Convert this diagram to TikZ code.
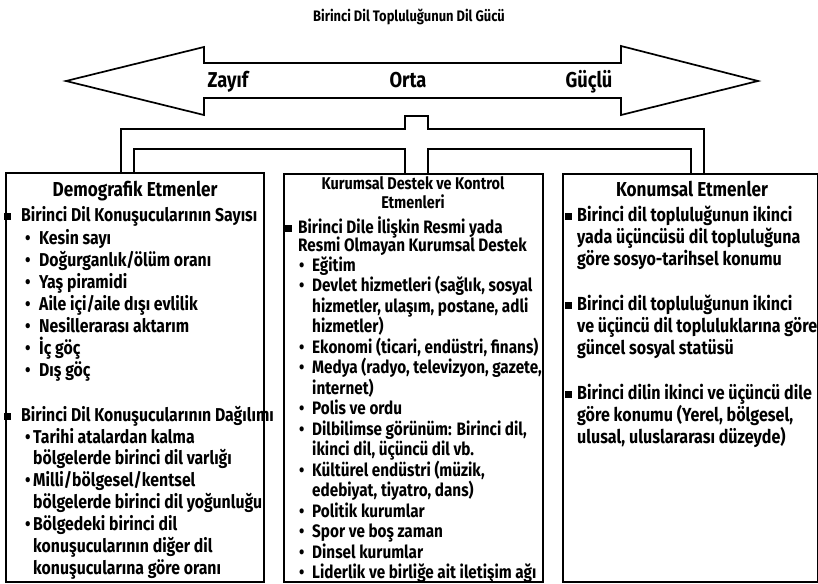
\documentclass[tikz,border=0pt]{standalone}
\usepackage{fontspec}
\setmainfont{Fira Sans}[FakeStretch=0.85]
\newcommand\sqbul[1]{\makebox[#1][l]{\rule[1.5pt]{7pt}{7pt}}}
\newcommand\dotbul[1]{\makebox[#1][l]{•}}
\tikzset{
  box/.style={draw, line width=1.7pt, anchor=north west, inner sep=0pt},
  ln/.style={line width=1.7pt, line join=miter},
  lt/.style={anchor=base west, inner sep=0pt, font=\fontsize{18.6}{20}\selectfont\bfseries},
  rt/.style={anchor=base west, inner sep=0pt, font=\fontsize{18.9}{20}\selectfont\bfseries},
  mt/.style={anchor=base west, inner sep=0pt, font=\fontsize{18}{18}\selectfont\bfseries},
  hd/.style={anchor=base, inner sep=0pt, font=\fontsize{20.2}{20}\selectfont\bfseries},
  mh/.style={anchor=base, inner sep=0pt, font=\fontsize{17}{18}\selectfont\bfseries},
  lab/.style={anchor=base, inner sep=0pt, font=\fontsize{21.5}{22}\selectfont\bfseries},
  ttl/.style={anchor=base, inner sep=0pt, font=\fontsize{15.2}{16}\selectfont\bfseries},
}
\begin{document}
\begin{tikzpicture}[x=1pt,y=-1pt]
\useasboundingbox (0,0) rectangle (818,583);
% title
\node[ttl] (title) at (409,22) {Birinci Dil Topluluğunun Dil Gücü};
% double arrow
\draw[ln] (66,81) -- (204,47) -- (204,63) -- (621,63) -- (621,46) -- (758,81)
  -- (621,115) -- (621,98) -- (204,98) -- (204,115) -- cycle;
\node[lab] (zayif) at (228,88) {Zayıf};
\node[lab] (orta) at (408,88) {Orta};
\node[lab] (guclu) at (589,88) {Güçlü};
% boxes
\node[box, minimum width=258pt, minimum height=409pt] (demo) at (5,172) {};
\node[box, minimum width=259pt, minimum height=408pt] (kur) at (283,173) {};
\node[box, minimum width=255pt, minimum height=408pt] (kon) at (562,173) {};
% connector pipe
\coordinate (o1) at (121,129);
\coordinate (o2) at (405,129);
\coordinate (o3) at (405,116);
\coordinate (o4) at (428,116);
\coordinate (o5) at (428,129);
\coordinate (o6) at (704,129);
\coordinate (i1) at (134,149);
\coordinate (i2) at (405,149);
\coordinate (i3) at (428,149);
\coordinate (i4) at (691,149);
\draw[ln] (o1 |- demo.north) -- (o1) -- (o2) -- (o3) -- (o4) -- (o5) -- (o6) -- (o6 |- kon.north);
\draw[ln] (i1 |- demo.north) -- (i1) -- (i2) -- (i2 |- kur.north);
\draw[ln] (i3 |- kur.north) -- (i3) -- (i4) -- (i4 |- kon.north);
% left box text
\node[hd] (dh) at (135,196) {Demografik Etmenler};
\node[lt] (d1) at (4,221) {\sqbul{17pt}Birinci Dil Konuşucularının Sayısı};
\node[lt] (d2) at (25,244) {\dotbul{14pt}Kesin sayı};
\node[lt] (d3) at (25,266) {\dotbul{14pt}Doğurganlık/ölüm oranı};
\node[lt] (d4) at (25,288) {\dotbul{14pt}Yaş piramidi};
\node[lt] (d5) at (25,310) {\dotbul{14pt}Aile içi/aile dışı evlilik};
\node[lt] (d6) at (25,332) {\dotbul{14pt}Nesillerarası aktarım};
\node[lt] (d7) at (25,354) {\dotbul{14pt}İç göç};
\node[lt] (d8) at (25,376) {\dotbul{14pt}Dış göç};
\node[lt] (d9) at (4,421) {\sqbul{17pt}Birinci Dil Konuşucularının Dağılımı};
\node[lt] (d10) at (25,443) {\dotbul{8pt}Tarihi atalardan kalma};
\node[lt] (d11) at (33,464) {bölgelerde birinci dil varlığı};
\node[lt] (d12) at (25,486) {\dotbul{8pt}Milli/bölgesel/kentsel};
\node[lt] (d13) at (33,508) {bölgelerde birinci dil yoğunluğu};
\node[lt] (d14) at (25,530) {\dotbul{8pt}Bölgedeki birinci dil};
\node[lt] (d15) at (33,552) {konuşucularının diğer dil};
\node[lt] (d16) at (33,574) {konuşucularına göre oranı};
% middle box text
\node[mh] (kh1) at (413,189) {Kurumsal Destek ve Kontrol};
\node[mh] (kh2) at (413,208) {Etmenleri};
\node[mt] (k1) at (285,233) {\sqbul{13pt}Birinci Dile İlişkin Resmi yada};
\node[mt] (k2) at (298,251) {Resmi Olmayan Kurumsal Destek};
\node[mt] (k3) at (299,271) {\dotbul{13pt}Eğitim};
\node[mt] (k4) at (299,291.5) {\dotbul{13pt}Devlet hizmetleri (sağlık, sosyal};
\node[mt] (k5) at (312,312) {hizmetler, ulaşım, postane, adli};
\node[mt] (k6) at (312,332.5) {hizmetler)};
\node[mt] (k7) at (299,353) {\dotbul{13pt}Ekonomi (ticari, endüstri, finans)};
\node[mt] (k8) at (299,373.5) {\dotbul{13pt}Medya (radyo, televizyon, gazete,};
\node[mt] (k9) at (312,394) {internet)};
\node[mt] (k10) at (299,414.5) {\dotbul{13pt}Polis ve ordu};
\node[mt] (k11) at (299,435) {\dotbul{13pt}Dilbilimse görünüm: Birinci dil,};
\node[mt] (k12) at (312,455.5) {ikinci dil, üçüncü dil vb.};
\node[mt] (k13) at (299,476) {\dotbul{13pt}Kültürel endüstri (müzik,};
\node[mt] (k14) at (312,496.5) {edebiyat, tiyatro, dans)};
\node[mt] (k15) at (299,517) {\dotbul{13pt}Politik kurumlar};
\node[mt] (k16) at (299,537.5) {\dotbul{13pt}Spor ve boş zaman};
\node[mt] (k17) at (299,558) {\dotbul{13pt}Dinsel kurumlar};
\node[mt] (k18) at (299,578.5) {\dotbul{13pt}Liderlik ve birliğe ait iletişim ağı};
% right box text
\node[hd] (rh) at (692,196) {Konumsal Etmenler};
\node[rt] (r1) at (565,221) {\sqbul{12pt}Birinci dil topluluğunun ikinci};
\node[rt] (r2) at (577,243) {yada üçüncüsü dil topluluğuna};
\node[rt] (r3) at (577,265) {göre sosyo-tarihsel konumu};
\node[rt] (r4) at (565,310) {\sqbul{12pt}Birinci dil topluluğunun ikinci};
\node[rt] (r5) at (577,332) {ve üçüncü dil topluluklarına göre};
\node[rt] (r6) at (577,354) {güncel sosyal statüsü};
\node[rt] (r7) at (565,399) {\sqbul{12pt}Birinci dilin ikinci ve üçüncü dile};
\node[rt] (r8) at (577,421) {göre konumu (Yerel, bölgesel,};
\node[rt] (r9) at (577,443) {ulusal, uluslararası düzeyde)};
\end{tikzpicture}
\end{document}
